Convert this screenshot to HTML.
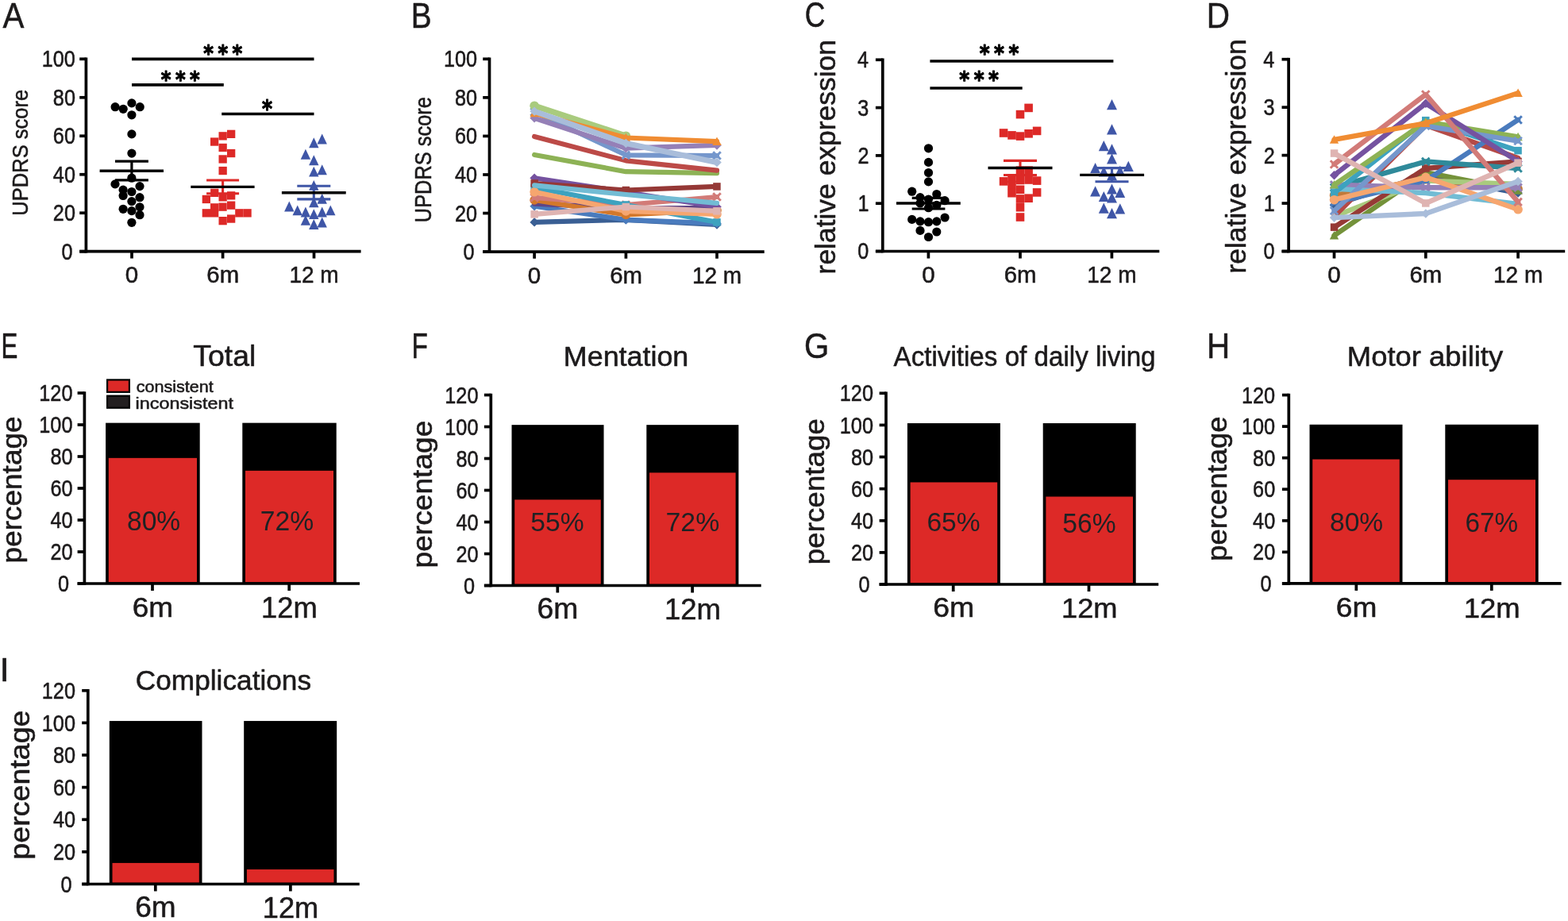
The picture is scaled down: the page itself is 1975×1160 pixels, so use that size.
<!DOCTYPE html>
<html><head><meta charset="utf-8"><title>Figure</title>
<style>
html,body{margin:0;padding:0;background:#fff;}
svg{display:block;}
text{font-family:"Liberation Sans",Arial,sans-serif;stroke-width:0.55px;stroke-linejoin:round;}
</style></head>
<body>
<svg width="1975" height="1160" viewBox="0 0 1975 1160">
<rect width="1975" height="1160" fill="#fff"/>
<text transform="translate(3.50 35.20) scale(0.8967 1)" font-size="44.95" fill="#1c1a1b" stroke="#1c1a1b">A</text>
<line x1="108.40" y1="72.45" x2="108.40" y2="318.55" stroke="#000" stroke-width="3.7" stroke-linecap="butt"/>
<line x1="100.20" y1="316.70" x2="108.40" y2="316.70" stroke="#000" stroke-width="3.7" stroke-linecap="butt"/>
<line x1="100.20" y1="268.22" x2="108.40" y2="268.22" stroke="#000" stroke-width="3.7" stroke-linecap="butt"/>
<line x1="100.20" y1="219.74" x2="108.40" y2="219.74" stroke="#000" stroke-width="3.7" stroke-linecap="butt"/>
<line x1="100.20" y1="171.26" x2="108.40" y2="171.26" stroke="#000" stroke-width="3.7" stroke-linecap="butt"/>
<line x1="100.20" y1="122.78" x2="108.40" y2="122.78" stroke="#000" stroke-width="3.7" stroke-linecap="butt"/>
<line x1="100.20" y1="74.30" x2="108.40" y2="74.30" stroke="#000" stroke-width="3.7" stroke-linecap="butt"/>
<line x1="100.20" y1="316.70" x2="454.60" y2="316.70" stroke="#000" stroke-width="3.7" stroke-linecap="butt"/>
<line x1="166.00" y1="316.70" x2="166.00" y2="325.50" stroke="#000" stroke-width="3.7" stroke-linecap="butt"/>
<line x1="280.60" y1="316.70" x2="280.60" y2="325.50" stroke="#000" stroke-width="3.7" stroke-linecap="butt"/>
<line x1="395.50" y1="316.70" x2="395.50" y2="325.50" stroke="#000" stroke-width="3.7" stroke-linecap="butt"/>
<text transform="translate(77.45 326.66) scale(0.8700 1)" font-size="28.98" fill="#1c1a1b" stroke="#1c1a1b">0</text>
<text transform="translate(66.86 278.18) scale(0.8700 1)" font-size="28.98" fill="#1c1a1b" stroke="#1c1a1b">20</text>
<text transform="translate(66.86 229.70) scale(0.8700 1)" font-size="28.98" fill="#1c1a1b" stroke="#1c1a1b">40</text>
<text transform="translate(66.86 181.22) scale(0.8700 1)" font-size="28.98" fill="#1c1a1b" stroke="#1c1a1b">60</text>
<text transform="translate(66.86 132.74) scale(0.8700 1)" font-size="28.98" fill="#1c1a1b" stroke="#1c1a1b">80</text>
<text transform="translate(52.81 84.26) scale(0.8700 1)" font-size="28.98" fill="#1c1a1b" stroke="#1c1a1b">100</text>
<text transform="translate(157.77 355.81) scale(1.0291 1)" font-size="28.69" fill="#1c1a1b" stroke="#1c1a1b">0</text>
<text transform="translate(260.33 355.81) scale(1.0243 1)" font-size="28.69" fill="#1c1a1b" stroke="#1c1a1b">6m</text>
<text transform="translate(364.40 356.10) scale(0.9619 1)" font-size="29.10" fill="#1c1a1b" stroke="#1c1a1b">12 m</text>
<text transform="translate(34.92 271.68) rotate(-90) scale(0.8986 1)" font-size="28.41" fill="#1c1a1b" stroke="#1c1a1b">UPDRS score</text>
<line x1="166.00" y1="74.30" x2="395.50" y2="74.30" stroke="#000" stroke-width="3.7" stroke-linecap="butt"/>
<text transform="translate(256.27 77.09) scale(0.8809 1)" font-size="27.53" fill="#000" stroke="#000" style="font-family:'DejaVu Sans',sans-serif;font-weight:bold;stroke-width:1.1px;stroke-linejoin:round;stroke-linecap:round">*</text>
<text transform="translate(274.57 77.09) scale(0.8809 1)" font-size="27.53" fill="#000" stroke="#000" style="font-family:'DejaVu Sans',sans-serif;font-weight:bold;stroke-width:1.1px;stroke-linejoin:round;stroke-linecap:round">*</text>
<text transform="translate(292.57 77.09) scale(0.8809 1)" font-size="27.53" fill="#000" stroke="#000" style="font-family:'DejaVu Sans',sans-serif;font-weight:bold;stroke-width:1.1px;stroke-linejoin:round;stroke-linecap:round">*</text>
<line x1="166.00" y1="106.80" x2="281.80" y2="106.80" stroke="#000" stroke-width="3.7" stroke-linecap="butt"/>
<text transform="translate(202.87 109.75) scale(0.8741 1)" font-size="27.74" fill="#000" stroke="#000" style="font-family:'DejaVu Sans',sans-serif;font-weight:bold;stroke-width:1.1px;stroke-linejoin:round;stroke-linecap:round">*</text>
<text transform="translate(221.07 109.75) scale(0.8741 1)" font-size="27.74" fill="#000" stroke="#000" style="font-family:'DejaVu Sans',sans-serif;font-weight:bold;stroke-width:1.1px;stroke-linejoin:round;stroke-linecap:round">*</text>
<text transform="translate(239.07 109.75) scale(0.8741 1)" font-size="27.74" fill="#000" stroke="#000" style="font-family:'DejaVu Sans',sans-serif;font-weight:bold;stroke-width:1.1px;stroke-linejoin:round;stroke-linecap:round">*</text>
<line x1="279.20" y1="143.50" x2="395.50" y2="143.50" stroke="#000" stroke-width="3.7" stroke-linecap="butt"/>
<text transform="translate(329.95 147.47) scale(0.8504 1)" font-size="29.25" fill="#000" stroke="#000" style="font-family:'DejaVu Sans',sans-serif;font-weight:bold;stroke-width:1.1px;stroke-linejoin:round;stroke-linecap:round">*</text>
<circle cx="145.1" cy="134.7" r="5.6" fill="#000"/>
<circle cx="155.2" cy="137.3" r="5.6" fill="#000"/>
<circle cx="165.9" cy="129.9" r="5.6" fill="#000"/>
<circle cx="176.2" cy="134.7" r="5.6" fill="#000"/>
<circle cx="165.9" cy="144.8" r="5.6" fill="#000"/>
<circle cx="165.9" cy="168.9" r="5.6" fill="#000"/>
<circle cx="165.9" cy="193.1" r="5.6" fill="#000"/>
<circle cx="165.9" cy="224.2" r="5.6" fill="#000"/>
<circle cx="145.0" cy="231.9" r="5.6" fill="#000"/>
<circle cx="176.0" cy="234.6" r="5.6" fill="#000"/>
<circle cx="155.1" cy="239.2" r="5.6" fill="#000"/>
<circle cx="165.9" cy="241.5" r="5.6" fill="#000"/>
<circle cx="155.1" cy="246.5" r="5.6" fill="#000"/>
<circle cx="176.0" cy="248.7" r="5.6" fill="#000"/>
<circle cx="165.9" cy="253.6" r="5.6" fill="#000"/>
<circle cx="176.0" cy="260.8" r="5.6" fill="#000"/>
<circle cx="155.1" cy="263.3" r="5.6" fill="#000"/>
<circle cx="165.9" cy="265.6" r="5.6" fill="#000"/>
<circle cx="176.0" cy="270.7" r="5.6" fill="#000"/>
<circle cx="165.9" cy="280.3" r="5.6" fill="#000"/>
<line x1="145.00" y1="203.20" x2="186.90" y2="203.20" stroke="#000" stroke-width="3.2" stroke-linecap="butt"/>
<line x1="145.00" y1="226.80" x2="186.90" y2="226.80" stroke="#000" stroke-width="3.2" stroke-linecap="butt"/>
<line x1="165.90" y1="203.20" x2="165.90" y2="226.80" stroke="#000" stroke-width="3.2" stroke-linecap="butt"/>
<line x1="125.60" y1="215.20" x2="206.00" y2="215.20" stroke="#000" stroke-width="3.4" stroke-linecap="butt"/>
<rect x="286.0" y="163.7" width="10.3" height="10.3" fill="#DD2927"/>
<rect x="275.5" y="166.2" width="10.3" height="10.3" fill="#DD2927"/>
<rect x="265.0" y="173.4" width="10.3" height="10.3" fill="#DD2927"/>
<rect x="275.5" y="180.8" width="10.3" height="10.3" fill="#DD2927"/>
<rect x="286.0" y="187.9" width="10.3" height="10.3" fill="#DD2927"/>
<rect x="275.5" y="195.3" width="10.3" height="10.3" fill="#DD2927"/>
<rect x="275.5" y="209.9" width="10.3" height="10.3" fill="#DD2927"/>
<rect x="265.1" y="237.7" width="10.3" height="10.3" fill="#DD2927"/>
<rect x="254.7" y="245.8" width="10.3" height="10.3" fill="#DD2927"/>
<rect x="275.5" y="243.2" width="10.3" height="10.3" fill="#DD2927"/>
<rect x="286.0" y="241.2" width="10.3" height="10.3" fill="#DD2927"/>
<rect x="265.0" y="256.2" width="10.3" height="10.3" fill="#DD2927"/>
<rect x="286.0" y="253.5" width="10.3" height="10.3" fill="#DD2927"/>
<rect x="254.7" y="263.2" width="10.3" height="10.3" fill="#DD2927"/>
<rect x="265.0" y="263.2" width="10.3" height="10.3" fill="#DD2927"/>
<rect x="296.2" y="263.2" width="10.3" height="10.3" fill="#DD2927"/>
<rect x="306.4" y="263.2" width="10.3" height="10.3" fill="#DD2927"/>
<rect x="286.0" y="270.4" width="10.3" height="10.3" fill="#DD2927"/>
<rect x="275.5" y="273.0" width="10.3" height="10.3" fill="#DD2927"/>
<rect x="275.4" y="255.5" width="10.3" height="10.3" fill="#DD2927"/>
<line x1="260.10" y1="227.00" x2="301.10" y2="227.00" stroke="#DD2927" stroke-width="3.1" stroke-linecap="butt"/>
<line x1="260.10" y1="243.80" x2="301.10" y2="243.80" stroke="#DD2927" stroke-width="3.1" stroke-linecap="butt"/>
<line x1="280.60" y1="227.00" x2="280.60" y2="243.80" stroke="#DD2927" stroke-width="3.1" stroke-linecap="butt"/>
<line x1="240.30" y1="235.40" x2="320.60" y2="235.40" stroke="#000" stroke-width="3.4" stroke-linecap="butt"/>
<path d="M405.7 168.5L411.9 181.4L399.5 181.4Z" fill="#3F56A7"/>
<path d="M395.3 173.3L401.5 186.2L389.1 186.2Z" fill="#3F56A7"/>
<path d="M384.9 187.8L391.1 200.7L378.7 200.7Z" fill="#3F56A7"/>
<path d="M395.3 195.3L401.5 208.2L389.1 208.2Z" fill="#3F56A7"/>
<path d="M395.3 209.7L401.5 222.6L389.1 222.6Z" fill="#3F56A7"/>
<path d="M405.7 207.3L411.9 220.2L399.5 220.2Z" fill="#3F56A7"/>
<path d="M395.3 226.9L401.5 239.8L389.1 239.8Z" fill="#3F56A7"/>
<path d="M405.7 243.8L411.9 256.7L399.5 256.7Z" fill="#3F56A7"/>
<path d="M395.3 248.3L401.5 261.2L389.1 261.2Z" fill="#3F56A7"/>
<path d="M364.3 253.5L370.5 266.4L358.1 266.4Z" fill="#3F56A7"/>
<path d="M374.7 258.4L380.9 271.3L368.5 271.3Z" fill="#3F56A7"/>
<path d="M384.9 260.6L391.1 273.5L378.7 273.5Z" fill="#3F56A7"/>
<path d="M395.3 263.2L401.5 276.1L389.1 276.1Z" fill="#3F56A7"/>
<path d="M405.7 260.6L411.9 273.5L399.5 273.5Z" fill="#3F56A7"/>
<path d="M416.3 258.4L422.5 271.3L410.1 271.3Z" fill="#3F56A7"/>
<path d="M384.9 270.9L391.1 283.8L378.7 283.8Z" fill="#3F56A7"/>
<path d="M395.3 276.1L401.5 289.0L389.1 289.0Z" fill="#3F56A7"/>
<path d="M405.7 273.5L411.9 286.4L399.5 286.4Z" fill="#3F56A7"/>
<line x1="374.30" y1="234.30" x2="416.30" y2="234.30" stroke="#3F56A7" stroke-width="3.1" stroke-linecap="butt"/>
<line x1="374.30" y1="250.90" x2="416.30" y2="250.90" stroke="#3F56A7" stroke-width="3.1" stroke-linecap="butt"/>
<line x1="395.30" y1="234.30" x2="395.30" y2="250.90" stroke="#3F56A7" stroke-width="3.1" stroke-linecap="butt"/>
<line x1="354.90" y1="242.70" x2="435.70" y2="242.70" stroke="#000" stroke-width="3.4" stroke-linecap="butt"/>
<text transform="translate(517.69 34.60) scale(0.8677 1)" font-size="44.80" fill="#1c1a1b" stroke="#1c1a1b">B</text>
<line x1="616.50" y1="72.45" x2="616.50" y2="318.95" stroke="#000" stroke-width="3.7" stroke-linecap="butt"/>
<line x1="608.20" y1="317.10" x2="616.50" y2="317.10" stroke="#000" stroke-width="3.7" stroke-linecap="butt"/>
<line x1="608.20" y1="268.54" x2="616.50" y2="268.54" stroke="#000" stroke-width="3.7" stroke-linecap="butt"/>
<line x1="608.20" y1="219.98" x2="616.50" y2="219.98" stroke="#000" stroke-width="3.7" stroke-linecap="butt"/>
<line x1="608.20" y1="171.42" x2="616.50" y2="171.42" stroke="#000" stroke-width="3.7" stroke-linecap="butt"/>
<line x1="608.20" y1="122.86" x2="616.50" y2="122.86" stroke="#000" stroke-width="3.7" stroke-linecap="butt"/>
<line x1="608.20" y1="74.30" x2="616.50" y2="74.30" stroke="#000" stroke-width="3.7" stroke-linecap="butt"/>
<line x1="608.20" y1="317.10" x2="962.70" y2="317.10" stroke="#000" stroke-width="3.7" stroke-linecap="butt"/>
<line x1="673.10" y1="317.10" x2="673.10" y2="325.70" stroke="#000" stroke-width="3.7" stroke-linecap="butt"/>
<line x1="788.40" y1="317.10" x2="788.40" y2="325.70" stroke="#000" stroke-width="3.7" stroke-linecap="butt"/>
<line x1="903.00" y1="317.10" x2="903.00" y2="325.70" stroke="#000" stroke-width="3.7" stroke-linecap="butt"/>
<text transform="translate(583.55 327.06) scale(0.8700 1)" font-size="28.98" fill="#1c1a1b" stroke="#1c1a1b">0</text>
<text transform="translate(572.96 278.50) scale(0.8700 1)" font-size="28.98" fill="#1c1a1b" stroke="#1c1a1b">20</text>
<text transform="translate(572.96 229.94) scale(0.8700 1)" font-size="28.98" fill="#1c1a1b" stroke="#1c1a1b">40</text>
<text transform="translate(572.96 181.38) scale(0.8700 1)" font-size="28.98" fill="#1c1a1b" stroke="#1c1a1b">60</text>
<text transform="translate(572.96 132.82) scale(0.8700 1)" font-size="28.98" fill="#1c1a1b" stroke="#1c1a1b">80</text>
<text transform="translate(558.91 84.26) scale(0.8700 1)" font-size="28.98" fill="#1c1a1b" stroke="#1c1a1b">100</text>
<text transform="translate(664.87 357.01) scale(1.0291 1)" font-size="28.69" fill="#1c1a1b" stroke="#1c1a1b">0</text>
<text transform="translate(768.13 357.01) scale(1.0243 1)" font-size="28.69" fill="#1c1a1b" stroke="#1c1a1b">6m</text>
<text transform="translate(871.90 357.30) scale(0.9619 1)" font-size="29.10" fill="#1c1a1b" stroke="#1c1a1b">12 m</text>
<text transform="translate(543.01 280.17) rotate(-90) scale(0.8723 1)" font-size="29.12" fill="#1c1a1b" stroke="#1c1a1b">UPDRS score</text>
<g>
<path d="M673.1 279.9L788.4 276.8L903.0 283.0" fill="none" stroke="#3A5F94" stroke-width="6.2" stroke-linejoin="round" stroke-linecap="round"/>
<path d="M673.1 274.1L678.9 279.9L673.1 285.6L667.4 279.9Z" fill="#3A5F94"/>
<path d="M788.4 271.1L794.1 276.8L788.4 282.6L782.6 276.8Z" fill="#3A5F94"/>
<path d="M903.0 277.2L908.8 283.0L903.0 288.8L897.2 283.0Z" fill="#3A5F94"/>
<path d="M673.1 259.7L788.4 276.8L903.0 281.4" fill="none" stroke="#4A7BBD" stroke-width="6.2" stroke-linejoin="round" stroke-linecap="round"/>
<path d="M673.1 253.9L678.9 259.7L673.1 265.4L667.4 259.7Z" fill="#4A7BBD"/>
<path d="M788.4 271.1L794.1 276.8L788.4 282.6L782.6 276.8Z" fill="#4A7BBD"/>
<path d="M903.0 275.6L908.8 281.4L903.0 287.1L897.2 281.4Z" fill="#4A7BBD"/>
<path d="M673.1 256.6L788.4 262.0L903.0 262.0" fill="none" stroke="#5F4586" stroke-width="6.2" stroke-linejoin="round" stroke-linecap="round"/>
<path d="M673.1 252.0L788.4 270.5L903.0 265.0" fill="none" stroke="#D3782B" stroke-width="6.2" stroke-linejoin="round" stroke-linecap="round"/>
<circle cx="673.1" cy="252.0" r="5.8" fill="#D3782B"/>
<circle cx="788.4" cy="270.5" r="5.8" fill="#D3782B"/>
<circle cx="903.0" cy="265.0" r="5.8" fill="#D3782B"/>
<path d="M673.1 248.8L788.4 258.0L903.0 248.0" fill="none" stroke="#D27B78" stroke-width="6.2" stroke-linejoin="round" stroke-linecap="round"/>
<path d="M668.4 244.1L677.9 253.6M677.9 244.1L668.4 253.6" stroke="#D27B78" stroke-width="3"/>
<path d="M783.6 253.2L793.1 262.8M793.1 253.2L783.6 262.8" stroke="#D27B78" stroke-width="3"/>
<path d="M898.2 243.2L907.8 252.8M907.8 243.2L898.2 252.8" stroke="#D27B78" stroke-width="3"/>
<path d="M673.1 236.4L788.4 258.0L903.0 279.9" fill="none" stroke="#3DA2BF" stroke-width="6.2" stroke-linejoin="round" stroke-linecap="round"/>
<rect x="668.4" y="231.7" width="9.5" height="9.5" fill="#3DA2BF"/>
<rect x="783.6" y="253.2" width="9.5" height="9.5" fill="#3DA2BF"/>
<rect x="898.2" y="275.1" width="9.5" height="9.5" fill="#3DA2BF"/>
<path d="M673.1 224.3L788.4 242.0L903.0 260.5" fill="none" stroke="#7552A0" stroke-width="6.2" stroke-linejoin="round" stroke-linecap="round"/>
<path d="M673.1 218.6L678.9 224.3L673.1 230.1L667.4 224.3Z" fill="#7552A0"/>
<path d="M788.4 236.2L794.1 242.0L788.4 247.8L782.6 242.0Z" fill="#7552A0"/>
<path d="M903.0 254.8L908.8 260.5L903.0 266.2L897.2 260.5Z" fill="#7552A0"/>
<path d="M673.1 231.0L788.4 239.5L903.0 234.9" fill="none" stroke="#953836" stroke-width="6.2" stroke-linejoin="round" stroke-linecap="round"/>
<rect x="668.4" y="226.2" width="9.5" height="9.5" fill="#953836"/>
<rect x="783.6" y="234.8" width="9.5" height="9.5" fill="#953836"/>
<rect x="898.2" y="230.2" width="9.5" height="9.5" fill="#953836"/>
<path d="M673.1 241.8L788.4 265.9L903.0 269.8" fill="none" stroke="#F6A66F" stroke-width="6.2" stroke-linejoin="round" stroke-linecap="round"/>
<circle cx="673.1" cy="241.8" r="5.8" fill="#F6A66F"/>
<circle cx="788.4" cy="265.9" r="5.8" fill="#F6A66F"/>
<circle cx="903.0" cy="269.8" r="5.8" fill="#F6A66F"/>
<path d="M673.1 233.3L788.4 245.0L903.0 255.8" fill="none" stroke="#72BCD4" stroke-width="6.2" stroke-linejoin="round" stroke-linecap="round"/>
<path d="M673.1 269.8L788.4 260.5L903.0 265.9" fill="none" stroke="#DFB4B2" stroke-width="6.2" stroke-linejoin="round" stroke-linecap="round"/>
<rect x="668.4" y="265.1" width="9.5" height="9.5" fill="#DFB4B2"/>
<rect x="783.6" y="255.8" width="9.5" height="9.5" fill="#DFB4B2"/>
<rect x="898.2" y="261.1" width="9.5" height="9.5" fill="#DFB4B2"/>
<path d="M673.1 195.0L788.4 216.2L903.0 218.1" fill="none" stroke="#8DB255" stroke-width="6.2" stroke-linejoin="round" stroke-linecap="round"/>
<path d="M673.1 172.0L788.4 202.3L903.0 214.7" fill="none" stroke="#BC4A47" stroke-width="6.2" stroke-linejoin="round" stroke-linecap="round"/>
<path d="M673.1 141.0L788.4 195.3L903.0 196.0" fill="none" stroke="#7597CC" stroke-width="6.2" stroke-linejoin="round" stroke-linecap="round"/>
<path d="M668.4 136.2L677.9 145.8M677.9 136.2L668.4 145.8" stroke="#7597CC" stroke-width="3"/>
<path d="M783.6 190.6L793.1 200.1M793.1 190.6L783.6 200.1" stroke="#7597CC" stroke-width="3"/>
<path d="M898.2 191.2L907.8 200.8M907.8 191.2L898.2 200.8" stroke="#7597CC" stroke-width="3"/>
<path d="M673.1 148.7L788.4 186.7L903.0 182.9" fill="none" stroke="#9580B7" stroke-width="6.2" stroke-linejoin="round" stroke-linecap="round"/>
<path d="M673.1 142.9L678.9 148.7L673.1 154.4L667.4 148.7Z" fill="#9580B7"/>
<path d="M788.4 180.9L794.1 186.7L788.4 192.4L782.6 186.7Z" fill="#9580B7"/>
<path d="M903.0 177.2L908.8 182.9L903.0 188.7L897.2 182.9Z" fill="#9580B7"/>
<path d="M673.1 133.2L788.4 171.2" fill="none" stroke="#A9CB7E" stroke-width="7.5" stroke-linejoin="round" stroke-linecap="round"/>
<circle cx="673.1" cy="133.2" r="5.8" fill="#A9CB7E"/>
<circle cx="788.4" cy="171.2" r="5.8" fill="#A9CB7E"/>
<path d="M673.1 142.5L788.4 173.5L903.0 178.2" fill="none" stroke="#F08C32" stroke-width="6.2" stroke-linejoin="round" stroke-linecap="round"/>
<path d="M673.1 136.8L678.9 147.2L667.4 147.2Z" fill="#F08C32"/>
<path d="M788.4 167.8L794.1 178.2L782.6 178.2Z" fill="#F08C32"/>
<path d="M903.0 172.4L908.8 182.9L897.2 182.9Z" fill="#F08C32"/>
<path d="M673.1 140.2L788.4 180.5L903.0 204.6" fill="none" stroke="#A9BDDA" stroke-width="7.0" stroke-linejoin="round" stroke-linecap="round"/>
<path d="M673.1 134.4L678.9 140.2L673.1 145.9L667.4 140.2Z" fill="#A9BDDA"/>
<path d="M788.4 174.8L794.1 180.5L788.4 186.2L782.6 180.5Z" fill="#A9BDDA"/>
<path d="M903.0 198.8L908.8 204.6L903.0 210.3L897.2 204.6Z" fill="#A9BDDA"/>
</g>
<text transform="translate(1013.82 34.46) scale(0.8019 1)" font-size="44.38" fill="#1c1a1b" stroke="#1c1a1b">C</text>
<line x1="1111.80" y1="73.45" x2="1111.80" y2="318.35" stroke="#000" stroke-width="3.7" stroke-linecap="butt"/>
<line x1="1102.90" y1="316.50" x2="1111.80" y2="316.50" stroke="#000" stroke-width="3.7" stroke-linecap="butt"/>
<line x1="1102.90" y1="256.20" x2="1111.80" y2="256.20" stroke="#000" stroke-width="3.7" stroke-linecap="butt"/>
<line x1="1102.90" y1="195.90" x2="1111.80" y2="195.90" stroke="#000" stroke-width="3.7" stroke-linecap="butt"/>
<line x1="1102.90" y1="135.60" x2="1111.80" y2="135.60" stroke="#000" stroke-width="3.7" stroke-linecap="butt"/>
<line x1="1102.90" y1="75.30" x2="1111.80" y2="75.30" stroke="#000" stroke-width="3.7" stroke-linecap="butt"/>
<line x1="1102.90" y1="316.50" x2="1460.30" y2="316.50" stroke="#000" stroke-width="3.7" stroke-linecap="butt"/>
<line x1="1169.40" y1="316.50" x2="1169.40" y2="325.50" stroke="#000" stroke-width="3.7" stroke-linecap="butt"/>
<line x1="1285.00" y1="316.50" x2="1285.00" y2="325.50" stroke="#000" stroke-width="3.7" stroke-linecap="butt"/>
<line x1="1400.40" y1="316.50" x2="1400.40" y2="325.50" stroke="#000" stroke-width="3.7" stroke-linecap="butt"/>
<text transform="translate(1080.15 326.46) scale(0.8700 1)" font-size="28.98" fill="#1c1a1b" stroke="#1c1a1b">0</text>
<text transform="translate(1080.41 266.16) scale(0.8700 1)" font-size="28.98" fill="#1c1a1b" stroke="#1c1a1b">1</text>
<text transform="translate(1080.47 205.86) scale(0.8700 1)" font-size="28.98" fill="#1c1a1b" stroke="#1c1a1b">2</text>
<text transform="translate(1080.28 145.56) scale(0.8700 1)" font-size="28.98" fill="#1c1a1b" stroke="#1c1a1b">3</text>
<text transform="translate(1079.90 85.26) scale(0.8700 1)" font-size="28.98" fill="#1c1a1b" stroke="#1c1a1b">4</text>
<text transform="translate(1161.17 355.81) scale(1.0291 1)" font-size="28.69" fill="#1c1a1b" stroke="#1c1a1b">0</text>
<text transform="translate(1264.73 355.81) scale(1.0243 1)" font-size="28.69" fill="#1c1a1b" stroke="#1c1a1b">6m</text>
<text transform="translate(1369.30 356.10) scale(0.9619 1)" font-size="29.10" fill="#1c1a1b" stroke="#1c1a1b">12 m</text>
<text transform="translate(1052.40 345.40) rotate(-90) scale(1.0077 1)" font-size="35.17" fill="#1c1a1b" stroke="#1c1a1b">relative expression</text>
<line x1="1171.40" y1="77.00" x2="1402.40" y2="77.00" stroke="#000" stroke-width="3.7" stroke-linecap="butt"/>
<text transform="translate(1233.66 77.15) scale(0.8559 1)" font-size="28.82" fill="#000" stroke="#000" style="font-family:'DejaVu Sans',sans-serif;font-weight:bold;stroke-width:1.1px;stroke-linejoin:round;stroke-linecap:round">*</text>
<text transform="translate(1252.06 77.15) scale(0.8559 1)" font-size="28.82" fill="#000" stroke="#000" style="font-family:'DejaVu Sans',sans-serif;font-weight:bold;stroke-width:1.1px;stroke-linejoin:round;stroke-linecap:round">*</text>
<text transform="translate(1270.46 77.15) scale(0.8559 1)" font-size="28.82" fill="#000" stroke="#000" style="font-family:'DejaVu Sans',sans-serif;font-weight:bold;stroke-width:1.1px;stroke-linejoin:round;stroke-linecap:round">*</text>
<line x1="1171.40" y1="111.00" x2="1287.70" y2="111.00" stroke="#000" stroke-width="3.7" stroke-linecap="butt"/>
<text transform="translate(1208.36 110.09) scale(0.8960 1)" font-size="27.53" fill="#000" stroke="#000" style="font-family:'DejaVu Sans',sans-serif;font-weight:bold;stroke-width:1.1px;stroke-linejoin:round;stroke-linecap:round">*</text>
<text transform="translate(1226.66 110.09) scale(0.8960 1)" font-size="27.53" fill="#000" stroke="#000" style="font-family:'DejaVu Sans',sans-serif;font-weight:bold;stroke-width:1.1px;stroke-linejoin:round;stroke-linecap:round">*</text>
<text transform="translate(1245.06 110.09) scale(0.8960 1)" font-size="27.53" fill="#000" stroke="#000" style="font-family:'DejaVu Sans',sans-serif;font-weight:bold;stroke-width:1.1px;stroke-linejoin:round;stroke-linecap:round">*</text>
<circle cx="1169.5" cy="186.8" r="5.6" fill="#000"/>
<circle cx="1169.5" cy="204.4" r="5.6" fill="#000"/>
<circle cx="1169.5" cy="217.5" r="5.6" fill="#000"/>
<circle cx="1169.5" cy="228.9" r="5.6" fill="#000"/>
<circle cx="1148.7" cy="241.2" r="5.6" fill="#000"/>
<circle cx="1179.8" cy="244.5" r="5.6" fill="#000"/>
<circle cx="1159.0" cy="248.6" r="5.6" fill="#000"/>
<circle cx="1169.5" cy="251.0" r="5.6" fill="#000"/>
<circle cx="1190.1" cy="252.7" r="5.6" fill="#000"/>
<circle cx="1159.0" cy="256.0" r="5.6" fill="#000"/>
<circle cx="1179.8" cy="258.4" r="5.6" fill="#000"/>
<circle cx="1169.5" cy="261.7" r="5.6" fill="#000"/>
<circle cx="1190.1" cy="274.0" r="5.6" fill="#000"/>
<circle cx="1148.7" cy="276.4" r="5.6" fill="#000"/>
<circle cx="1159.0" cy="278.9" r="5.6" fill="#000"/>
<circle cx="1169.5" cy="279.7" r="5.6" fill="#000"/>
<circle cx="1179.8" cy="278.9" r="5.6" fill="#000"/>
<circle cx="1159.0" cy="290.4" r="5.6" fill="#000"/>
<circle cx="1179.8" cy="292.0" r="5.6" fill="#000"/>
<circle cx="1169.5" cy="298.5" r="5.6" fill="#000"/>
<line x1="1148.70" y1="249.40" x2="1190.40" y2="249.40" stroke="#000" stroke-width="3.2" stroke-linecap="butt"/>
<line x1="1148.70" y1="263.00" x2="1190.40" y2="263.00" stroke="#000" stroke-width="3.2" stroke-linecap="butt"/>
<line x1="1169.50" y1="249.40" x2="1169.50" y2="263.00" stroke="#000" stroke-width="3.2" stroke-linecap="butt"/>
<line x1="1129.00" y1="256.00" x2="1209.80" y2="256.00" stroke="#000" stroke-width="3.4" stroke-linecap="butt"/>
<rect x="1290.3" y="130.6" width="10.6" height="10.6" fill="#DD2927"/>
<rect x="1279.7" y="138.8" width="10.6" height="10.6" fill="#DD2927"/>
<rect x="1258.8" y="162.2" width="10.6" height="10.6" fill="#DD2927"/>
<rect x="1269.2" y="165.1" width="10.6" height="10.6" fill="#DD2927"/>
<rect x="1279.7" y="166.3" width="10.6" height="10.6" fill="#DD2927"/>
<rect x="1290.3" y="163.0" width="10.6" height="10.6" fill="#DD2927"/>
<rect x="1300.8" y="159.6" width="10.6" height="10.6" fill="#DD2927"/>
<rect x="1279.7" y="209.4" width="10.6" height="10.6" fill="#DD2927"/>
<rect x="1290.3" y="209.4" width="10.6" height="10.6" fill="#DD2927"/>
<rect x="1258.8" y="223.1" width="10.6" height="10.6" fill="#DD2927"/>
<rect x="1269.2" y="219.5" width="10.6" height="10.6" fill="#DD2927"/>
<rect x="1290.3" y="221.2" width="10.6" height="10.6" fill="#DD2927"/>
<rect x="1300.8" y="222.3" width="10.6" height="10.6" fill="#DD2927"/>
<rect x="1279.7" y="221.7" width="10.6" height="10.6" fill="#DD2927"/>
<rect x="1269.2" y="227.7" width="10.6" height="10.6" fill="#DD2927"/>
<rect x="1279.7" y="233.5" width="10.6" height="10.6" fill="#DD2927"/>
<rect x="1300.8" y="237.1" width="10.6" height="10.6" fill="#DD2927"/>
<rect x="1269.2" y="237.9" width="10.6" height="10.6" fill="#DD2927"/>
<rect x="1290.3" y="244.4" width="10.6" height="10.6" fill="#DD2927"/>
<rect x="1279.7" y="245.2" width="10.6" height="10.6" fill="#DD2927"/>
<rect x="1279.7" y="255.9" width="10.6" height="10.6" fill="#DD2927"/>
<rect x="1279.7" y="268.2" width="10.6" height="10.6" fill="#DD2927"/>
<line x1="1264.00" y1="202.40" x2="1306.00" y2="202.40" stroke="#DD2927" stroke-width="3.1" stroke-linecap="butt"/>
<line x1="1264.00" y1="220.50" x2="1306.00" y2="220.50" stroke="#DD2927" stroke-width="3.1" stroke-linecap="butt"/>
<line x1="1285.00" y1="202.40" x2="1285.00" y2="220.50" stroke="#DD2927" stroke-width="3.1" stroke-linecap="butt"/>
<line x1="1244.50" y1="211.50" x2="1325.50" y2="211.50" stroke="#000" stroke-width="3.4" stroke-linecap="butt"/>
<path d="M1400.5 125.1L1407.0 138.3L1394.0 138.3Z" fill="#3F56A7"/>
<path d="M1400.5 156.3L1407.0 169.5L1394.0 169.5Z" fill="#3F56A7"/>
<path d="M1390.3 177.1L1396.8 190.3L1383.8 190.3Z" fill="#3F56A7"/>
<path d="M1400.5 181.2L1407.0 194.4L1394.0 194.4Z" fill="#3F56A7"/>
<path d="M1400.5 193.3L1407.0 206.5L1394.0 206.5Z" fill="#3F56A7"/>
<path d="M1379.6 205.0L1386.0 218.2L1373.1 218.2Z" fill="#3F56A7"/>
<path d="M1421.3 202.8L1427.8 216.0L1414.8 216.0Z" fill="#3F56A7"/>
<path d="M1390.3 209.4L1396.8 222.6L1383.8 222.6Z" fill="#3F56A7"/>
<path d="M1410.8 208.6L1417.2 221.8L1404.3 221.8Z" fill="#3F56A7"/>
<path d="M1400.5 214.0L1407.0 227.2L1394.0 227.2Z" fill="#3F56A7"/>
<path d="M1400.5 231.4L1407.0 244.6L1394.0 244.6Z" fill="#3F56A7"/>
<path d="M1379.6 234.3L1386.0 247.5L1373.1 247.5Z" fill="#3F56A7"/>
<path d="M1410.8 235.8L1417.2 249.0L1404.3 249.0Z" fill="#3F56A7"/>
<path d="M1390.3 240.9L1396.8 254.1L1383.8 254.1Z" fill="#3F56A7"/>
<path d="M1400.5 242.3L1407.0 255.5L1394.0 255.5Z" fill="#3F56A7"/>
<path d="M1390.3 255.5L1396.8 268.7L1383.8 268.7Z" fill="#3F56A7"/>
<path d="M1410.8 256.3L1417.2 269.5L1404.3 269.5Z" fill="#3F56A7"/>
<path d="M1400.5 262.1L1407.0 275.3L1394.0 275.3Z" fill="#3F56A7"/>
<line x1="1379.50" y1="211.60" x2="1421.50" y2="211.60" stroke="#3F56A7" stroke-width="3.1" stroke-linecap="butt"/>
<line x1="1379.50" y1="228.70" x2="1421.50" y2="228.70" stroke="#3F56A7" stroke-width="3.1" stroke-linecap="butt"/>
<line x1="1400.50" y1="211.60" x2="1400.50" y2="228.70" stroke="#3F56A7" stroke-width="3.1" stroke-linecap="butt"/>
<line x1="1360.20" y1="220.40" x2="1441.10" y2="220.40" stroke="#000" stroke-width="3.4" stroke-linecap="butt"/>
<text transform="translate(1519.66 34.70) scale(0.9131 1)" font-size="44.36" fill="#1c1a1b" stroke="#1c1a1b">D</text>
<line x1="1623.10" y1="72.85" x2="1623.10" y2="318.35" stroke="#000" stroke-width="3.7" stroke-linecap="butt"/>
<line x1="1614.50" y1="316.50" x2="1623.10" y2="316.50" stroke="#000" stroke-width="3.7" stroke-linecap="butt"/>
<line x1="1614.50" y1="256.05" x2="1623.10" y2="256.05" stroke="#000" stroke-width="3.7" stroke-linecap="butt"/>
<line x1="1614.50" y1="195.60" x2="1623.10" y2="195.60" stroke="#000" stroke-width="3.7" stroke-linecap="butt"/>
<line x1="1614.50" y1="135.15" x2="1623.10" y2="135.15" stroke="#000" stroke-width="3.7" stroke-linecap="butt"/>
<line x1="1614.50" y1="74.70" x2="1623.10" y2="74.70" stroke="#000" stroke-width="3.7" stroke-linecap="butt"/>
<line x1="1614.50" y1="316.50" x2="1971.20" y2="316.50" stroke="#000" stroke-width="3.7" stroke-linecap="butt"/>
<line x1="1680.50" y1="316.50" x2="1680.50" y2="325.50" stroke="#000" stroke-width="3.7" stroke-linecap="butt"/>
<line x1="1795.80" y1="316.50" x2="1795.80" y2="325.50" stroke="#000" stroke-width="3.7" stroke-linecap="butt"/>
<line x1="1912.10" y1="316.50" x2="1912.10" y2="325.50" stroke="#000" stroke-width="3.7" stroke-linecap="butt"/>
<text transform="translate(1591.45 326.46) scale(0.8700 1)" font-size="28.98" fill="#1c1a1b" stroke="#1c1a1b">0</text>
<text transform="translate(1591.71 266.01) scale(0.8700 1)" font-size="28.98" fill="#1c1a1b" stroke="#1c1a1b">1</text>
<text transform="translate(1591.77 205.56) scale(0.8700 1)" font-size="28.98" fill="#1c1a1b" stroke="#1c1a1b">2</text>
<text transform="translate(1591.58 145.11) scale(0.8700 1)" font-size="28.98" fill="#1c1a1b" stroke="#1c1a1b">3</text>
<text transform="translate(1591.20 84.66) scale(0.8700 1)" font-size="28.98" fill="#1c1a1b" stroke="#1c1a1b">4</text>
<text transform="translate(1672.27 355.81) scale(1.0291 1)" font-size="28.69" fill="#1c1a1b" stroke="#1c1a1b">0</text>
<text transform="translate(1775.53 355.81) scale(1.0243 1)" font-size="28.69" fill="#1c1a1b" stroke="#1c1a1b">6m</text>
<text transform="translate(1881.00 356.10) scale(0.9619 1)" font-size="29.10" fill="#1c1a1b" stroke="#1c1a1b">12 m</text>
<text transform="translate(1569.10 344.50) rotate(-90) scale(1.0073 1)" font-size="35.17" fill="#1c1a1b" stroke="#1c1a1b">relative expression</text>
<path d="M1680.5 258.0L1795.8 220.7L1912.1 243.1" fill="none" stroke="#3A5F94" stroke-width="6.4" stroke-linejoin="round" stroke-linecap="round"/>
<path d="M1680.5 252.2L1686.2 258.0L1680.5 263.8L1674.8 258.0Z" fill="#3A5F94"/>
<path d="M1795.8 214.9L1801.5 220.7L1795.8 226.4L1790.0 220.7Z" fill="#3A5F94"/>
<path d="M1912.1 237.3L1917.8 243.1L1912.1 248.8L1906.3 243.1Z" fill="#3A5F94"/>
<path d="M1680.5 246.0L1795.8 226.0L1912.1 237.9" fill="none" stroke="#C07A3A" stroke-width="6.4" stroke-linejoin="round" stroke-linecap="round"/>
<circle cx="1680.5" cy="246.0" r="5.8" fill="#C07A3A"/>
<circle cx="1795.8" cy="226.0" r="5.8" fill="#C07A3A"/>
<circle cx="1912.1" cy="237.9" r="5.8" fill="#C07A3A"/>
<path d="M1680.5 296.6L1795.8 217.2L1912.1 240.0" fill="none" stroke="#74923A" stroke-width="6.4" stroke-linejoin="round" stroke-linecap="round"/>
<path d="M1680.5 290.9L1686.2 301.4L1674.8 301.4Z" fill="#74923A"/>
<path d="M1795.8 211.4L1801.5 221.9L1790.0 221.9Z" fill="#74923A"/>
<path d="M1912.1 234.2L1917.8 244.8L1906.3 244.8Z" fill="#74923A"/>
<path d="M1680.5 272.4L1795.8 227.6L1912.1 232.0" fill="none" stroke="#A9CB7E" stroke-width="6.4" stroke-linejoin="round" stroke-linecap="round"/>
<path d="M1680.5 272.4L1795.8 157.8L1912.1 199.1" fill="none" stroke="#B54A47" stroke-width="6.4" stroke-linejoin="round" stroke-linecap="round"/>
<path d="M1680.5 286.2L1795.8 212.0L1912.1 203.4" fill="none" stroke="#963A36" stroke-width="6.4" stroke-linejoin="round" stroke-linecap="round"/>
<rect x="1675.8" y="281.4" width="9.5" height="9.5" fill="#963A36"/>
<rect x="1791.0" y="207.2" width="9.5" height="9.5" fill="#963A36"/>
<rect x="1907.3" y="198.7" width="9.5" height="9.5" fill="#963A36"/>
<path d="M1680.5 255.2L1795.8 227.6L1912.1 150.9" fill="none" stroke="#4A7BBD" stroke-width="6.4" stroke-linejoin="round" stroke-linecap="round"/>
<path d="M1675.8 250.4L1685.2 259.9M1685.2 250.4L1675.8 259.9" stroke="#4A7BBD" stroke-width="3"/>
<path d="M1791.0 222.8L1800.5 232.3M1800.5 222.8L1791.0 232.3" stroke="#4A7BBD" stroke-width="3"/>
<path d="M1907.3 146.2L1916.8 155.7M1916.8 146.2L1907.3 155.7" stroke="#4A7BBD" stroke-width="3"/>
<path d="M1680.5 236.2L1795.8 203.4L1912.1 212.0" fill="none" stroke="#2F8A9A" stroke-width="6.4" stroke-linejoin="round" stroke-linecap="round"/>
<path d="M1675.8 231.4L1685.2 240.9M1685.2 231.4L1675.8 240.9" stroke="#2F8A9A" stroke-width="3"/>
<path d="M1791.0 198.7L1800.5 208.2M1800.5 198.7L1791.0 208.2" stroke="#2F8A9A" stroke-width="3"/>
<path d="M1907.3 207.2L1916.8 216.8M1916.8 207.2L1907.3 216.8" stroke="#2F8A9A" stroke-width="3"/>
<path d="M1680.5 232.8L1795.8 236.2L1912.1 236.2" fill="none" stroke="#9580B7" stroke-width="6.4" stroke-linejoin="round" stroke-linecap="round"/>
<path d="M1675.8 228.1L1685.2 237.6M1685.2 228.1L1675.8 237.6" stroke="#9580B7" stroke-width="3"/>
<path d="M1791.0 231.4L1800.5 240.9M1800.5 231.4L1791.0 240.9" stroke="#9580B7" stroke-width="3"/>
<path d="M1907.3 231.4L1916.8 240.9M1916.8 231.4L1907.3 240.9" stroke="#9580B7" stroke-width="3"/>
<path d="M1680.5 237.9L1795.8 243.1L1912.1 256.9" fill="none" stroke="#72BCD4" stroke-width="6.4" stroke-linejoin="round" stroke-linecap="round"/>
<path d="M1680.5 243.1L1795.8 151.7L1912.1 189.7" fill="none" stroke="#3DA2BF" stroke-width="6.4" stroke-linejoin="round" stroke-linecap="round"/>
<rect x="1675.8" y="238.3" width="9.5" height="9.5" fill="#3DA2BF"/>
<rect x="1791.0" y="146.9" width="9.5" height="9.5" fill="#3DA2BF"/>
<rect x="1907.3" y="184.9" width="9.5" height="9.5" fill="#3DA2BF"/>
<path d="M1680.5 232.8L1795.8 153.4L1912.1 172.4" fill="none" stroke="#8DB255" stroke-width="6.4" stroke-linejoin="round" stroke-linecap="round"/>
<path d="M1680.5 227.1L1686.2 237.6L1674.8 237.6Z" fill="#8DB255"/>
<path d="M1795.8 147.7L1801.5 158.2L1790.0 158.2Z" fill="#8DB255"/>
<path d="M1912.1 166.7L1917.8 177.2L1906.3 177.2Z" fill="#8DB255"/>
<path d="M1680.5 265.5L1795.8 158.6L1912.1 177.6" fill="none" stroke="#7597CC" stroke-width="6.4" stroke-linejoin="round" stroke-linecap="round"/>
<path d="M1675.8 260.8L1685.2 270.2M1685.2 260.8L1675.8 270.2" stroke="#7597CC" stroke-width="3"/>
<path d="M1791.0 153.8L1800.5 163.3M1800.5 153.8L1791.0 163.3" stroke="#7597CC" stroke-width="3"/>
<path d="M1907.3 172.8L1916.8 182.3M1916.8 172.8L1907.3 182.3" stroke="#7597CC" stroke-width="3"/>
<path d="M1680.5 251.7L1795.8 223.3L1912.1 263.8" fill="none" stroke="#F6A66F" stroke-width="6.4" stroke-linejoin="round" stroke-linecap="round"/>
<circle cx="1680.5" cy="251.7" r="5.8" fill="#F6A66F"/>
<circle cx="1795.8" cy="223.3" r="5.8" fill="#F6A66F"/>
<circle cx="1912.1" cy="263.8" r="5.8" fill="#F6A66F"/>
<path d="M1680.5 220.7L1795.8 130.2L1912.1 203.4" fill="none" stroke="#7552A0" stroke-width="6.4" stroke-linejoin="round" stroke-linecap="round"/>
<path d="M1680.5 214.9L1686.2 220.7L1680.5 226.4L1674.8 220.7Z" fill="#7552A0"/>
<path d="M1795.8 124.4L1801.5 130.2L1795.8 135.9L1790.0 130.2Z" fill="#7552A0"/>
<path d="M1912.1 197.7L1917.8 203.4L1912.1 209.2L1906.3 203.4Z" fill="#7552A0"/>
<path d="M1680.5 206.9L1795.8 119.0L1912.1 254.3" fill="none" stroke="#D27B78" stroke-width="6.4" stroke-linejoin="round" stroke-linecap="round"/>
<path d="M1675.8 202.2L1685.2 211.7M1685.2 202.2L1675.8 211.7" stroke="#D27B78" stroke-width="3"/>
<path d="M1791.0 114.2L1800.5 123.8M1800.5 114.2L1791.0 123.8" stroke="#D27B78" stroke-width="3"/>
<path d="M1907.3 249.6L1916.8 259.1M1916.8 249.6L1907.3 259.1" stroke="#D27B78" stroke-width="3"/>
<path d="M1680.5 175.9L1795.8 155.2L1912.1 117.2" fill="none" stroke="#F08C32" stroke-width="6.4" stroke-linejoin="round" stroke-linecap="round"/>
<path d="M1680.5 170.2L1686.2 180.7L1674.8 180.7Z" fill="#F08C32"/>
<path d="M1795.8 149.4L1801.5 159.9L1790.0 159.9Z" fill="#F08C32"/>
<path d="M1912.1 111.5L1917.8 122.0L1906.3 122.0Z" fill="#F08C32"/>
<path d="M1680.5 193.1L1795.8 256.0L1912.1 205.2" fill="none" stroke="#DFB4B2" stroke-width="6.4" stroke-linejoin="round" stroke-linecap="round"/>
<rect x="1675.8" y="188.3" width="9.5" height="9.5" fill="#DFB4B2"/>
<rect x="1791.0" y="251.2" width="9.5" height="9.5" fill="#DFB4B2"/>
<rect x="1907.3" y="200.4" width="9.5" height="9.5" fill="#DFB4B2"/>
<path d="M1680.5 274.1L1795.8 269.0L1912.1 228.4" fill="none" stroke="#A9BDDA" stroke-width="6.4" stroke-linejoin="round" stroke-linecap="round"/>
<path d="M1680.5 268.4L1686.2 274.1L1680.5 279.9L1674.8 274.1Z" fill="#A9BDDA"/>
<path d="M1795.8 263.2L1801.5 269.0L1795.8 274.8L1790.0 269.0Z" fill="#A9BDDA"/>
<path d="M1912.1 222.7L1917.8 228.4L1912.1 234.2L1906.3 228.4Z" fill="#A9BDDA"/>
<text transform="translate(1.51 450.90) scale(0.7087 1)" font-size="44.22" fill="#1c1a1b" stroke="#1c1a1b">E</text>
<text transform="translate(243.36 461.44) scale(1.0251 1)" font-size="36.46" fill="#1c1a1b" stroke="#1c1a1b">Total</text>
<rect x="133.10" y="532.65" width="118.60" height="202.35" fill="#000"/>
<rect x="136.80" y="576.85" width="111.20" height="156.30" fill="#DD2927"/>
<rect x="305.30" y="532.65" width="118.40" height="202.35" fill="#000"/>
<rect x="309.00" y="592.85" width="111.00" height="140.30" fill="#DD2927"/>
<line x1="106.40" y1="493.15" x2="106.40" y2="736.85" stroke="#000" stroke-width="3.7" stroke-linecap="butt"/>
<line x1="97.60" y1="735.00" x2="106.40" y2="735.00" stroke="#000" stroke-width="3.7" stroke-linecap="butt"/>
<line x1="97.60" y1="695.00" x2="106.40" y2="695.00" stroke="#000" stroke-width="3.7" stroke-linecap="butt"/>
<line x1="97.60" y1="655.00" x2="106.40" y2="655.00" stroke="#000" stroke-width="3.7" stroke-linecap="butt"/>
<line x1="97.60" y1="615.00" x2="106.40" y2="615.00" stroke="#000" stroke-width="3.7" stroke-linecap="butt"/>
<line x1="97.60" y1="575.00" x2="106.40" y2="575.00" stroke="#000" stroke-width="3.7" stroke-linecap="butt"/>
<line x1="97.60" y1="535.00" x2="106.40" y2="535.00" stroke="#000" stroke-width="3.7" stroke-linecap="butt"/>
<line x1="97.60" y1="495.00" x2="106.40" y2="495.00" stroke="#000" stroke-width="3.7" stroke-linecap="butt"/>
<line x1="97.60" y1="735.00" x2="453.00" y2="735.00" stroke="#000" stroke-width="3.7" stroke-linecap="butt"/>
<line x1="192.00" y1="735.00" x2="192.00" y2="744.00" stroke="#000" stroke-width="3.7" stroke-linecap="butt"/>
<line x1="364.20" y1="735.00" x2="364.20" y2="744.00" stroke="#000" stroke-width="3.7" stroke-linecap="butt"/>
<text transform="translate(72.92 745.11) scale(0.8600 1)" font-size="29.40" fill="#1c1a1b" stroke="#1c1a1b">0</text>
<text transform="translate(63.38 705.11) scale(0.8600 1)" font-size="29.40" fill="#1c1a1b" stroke="#1c1a1b">20</text>
<text transform="translate(63.38 665.11) scale(0.8600 1)" font-size="29.40" fill="#1c1a1b" stroke="#1c1a1b">40</text>
<text transform="translate(63.38 625.11) scale(0.8600 1)" font-size="29.40" fill="#1c1a1b" stroke="#1c1a1b">60</text>
<text transform="translate(63.38 585.11) scale(0.8600 1)" font-size="29.40" fill="#1c1a1b" stroke="#1c1a1b">80</text>
<text transform="translate(49.29 545.11) scale(0.8600 1)" font-size="29.40" fill="#1c1a1b" stroke="#1c1a1b">100</text>
<text transform="translate(49.29 505.11) scale(0.8600 1)" font-size="29.40" fill="#1c1a1b" stroke="#1c1a1b">120</text>
<text transform="translate(166.65 777.24) scale(1.0351 1)" font-size="35.76" fill="#1c1a1b" stroke="#1c1a1b">6m</text>
<text transform="translate(329.07 778.20) scale(0.9980 1)" font-size="36.42" fill="#1c1a1b" stroke="#1c1a1b">12m</text>
<text transform="translate(26.85 709.40) rotate(-90) scale(1.0578 1)" font-size="34.96" fill="#1c1a1b" stroke="#1c1a1b">percentage</text>
<text transform="translate(159.97 667.65) scale(0.9666 1)" font-size="34.77" fill="#1E2224" stroke="none">80%</text>
<text transform="translate(327.82 668.03) scale(0.9660 1)" font-size="34.88" fill="#1E2224" stroke="none">72%</text>
<rect x="134.00" y="477.30" width="30.00" height="17.60" fill="#000"/>
<rect x="136.20" y="479.50" width="25.60" height="13.20" fill="#DD2927"/>
<rect x="134.00" y="497.50" width="30.00" height="17.30" fill="#000"/>
<rect x="136.20" y="499.70" width="25.60" height="12.90" fill="#231F20"/>
<text transform="translate(171.68 494.39) scale(1.0235 1)" font-size="21.09" fill="#1c1a1b" stroke="#1c1a1b">consistent</text>
<text transform="translate(170.62 515.09) scale(1.1223 1)" font-size="20.82" fill="#1c1a1b" stroke="#1c1a1b">inconsistent</text>
<text transform="translate(518.44 450.90) scale(0.7463 1)" font-size="44.80" fill="#1c1a1b" stroke="#1c1a1b">F</text>
<text transform="translate(709.84 460.66) scale(1.0457 1)" font-size="34.29" fill="#1c1a1b" stroke="#1c1a1b">Mentation</text>
<rect x="644.50" y="535.15" width="116.00" height="202.35" fill="#000"/>
<rect x="648.20" y="629.35" width="108.60" height="106.30" fill="#DD2927"/>
<rect x="814.30" y="535.15" width="116.00" height="202.35" fill="#000"/>
<rect x="818.00" y="595.35" width="108.60" height="140.30" fill="#DD2927"/>
<line x1="618.30" y1="495.65" x2="618.30" y2="739.35" stroke="#000" stroke-width="3.7" stroke-linecap="butt"/>
<line x1="609.90" y1="737.50" x2="618.30" y2="737.50" stroke="#000" stroke-width="3.7" stroke-linecap="butt"/>
<line x1="609.90" y1="697.50" x2="618.30" y2="697.50" stroke="#000" stroke-width="3.7" stroke-linecap="butt"/>
<line x1="609.90" y1="657.50" x2="618.30" y2="657.50" stroke="#000" stroke-width="3.7" stroke-linecap="butt"/>
<line x1="609.90" y1="617.50" x2="618.30" y2="617.50" stroke="#000" stroke-width="3.7" stroke-linecap="butt"/>
<line x1="609.90" y1="577.50" x2="618.30" y2="577.50" stroke="#000" stroke-width="3.7" stroke-linecap="butt"/>
<line x1="609.90" y1="537.50" x2="618.30" y2="537.50" stroke="#000" stroke-width="3.7" stroke-linecap="butt"/>
<line x1="609.90" y1="497.50" x2="618.30" y2="497.50" stroke="#000" stroke-width="3.7" stroke-linecap="butt"/>
<line x1="609.90" y1="737.50" x2="958.70" y2="737.50" stroke="#000" stroke-width="3.7" stroke-linecap="butt"/>
<line x1="702.30" y1="737.50" x2="702.30" y2="746.50" stroke="#000" stroke-width="3.7" stroke-linecap="butt"/>
<line x1="872.10" y1="737.50" x2="872.10" y2="746.50" stroke="#000" stroke-width="3.7" stroke-linecap="butt"/>
<text transform="translate(583.92 747.61) scale(0.8600 1)" font-size="29.40" fill="#1c1a1b" stroke="#1c1a1b">0</text>
<text transform="translate(574.38 707.61) scale(0.8600 1)" font-size="29.40" fill="#1c1a1b" stroke="#1c1a1b">20</text>
<text transform="translate(574.38 667.61) scale(0.8600 1)" font-size="29.40" fill="#1c1a1b" stroke="#1c1a1b">40</text>
<text transform="translate(574.38 627.61) scale(0.8600 1)" font-size="29.40" fill="#1c1a1b" stroke="#1c1a1b">60</text>
<text transform="translate(574.38 587.61) scale(0.8600 1)" font-size="29.40" fill="#1c1a1b" stroke="#1c1a1b">80</text>
<text transform="translate(560.29 547.61) scale(0.8600 1)" font-size="29.40" fill="#1c1a1b" stroke="#1c1a1b">100</text>
<text transform="translate(560.29 507.61) scale(0.8600 1)" font-size="29.40" fill="#1c1a1b" stroke="#1c1a1b">120</text>
<text transform="translate(676.54 779.24) scale(1.0295 1)" font-size="36.18" fill="#1c1a1b" stroke="#1c1a1b">6m</text>
<text transform="translate(836.97 780.10) scale(0.9971 1)" font-size="36.56" fill="#1c1a1b" stroke="#1c1a1b">12m</text>
<text transform="translate(543.75 715.52) rotate(-90) scale(1.0631 1)" font-size="34.96" fill="#1c1a1b" stroke="#1c1a1b">percentage</text>
<text transform="translate(668.35 668.57) scale(1.0101 1)" font-size="33.33" fill="#1E2224" stroke="none">55%</text>
<text transform="translate(838.51 668.73) scale(1.0118 1)" font-size="33.45" fill="#1E2224" stroke="none">72%</text>
<text transform="translate(1013.09 450.86) scale(0.9164 1)" font-size="43.82" fill="#1c1a1b" stroke="#1c1a1b">G</text>
<text transform="translate(1125.52 461.19) scale(0.9549 1)" font-size="34.75" fill="#1c1a1b" stroke="#1c1a1b">Activities of daily living</text>
<rect x="1142.90" y="533.05" width="117.00" height="202.95" fill="#000"/>
<rect x="1146.60" y="607.46" width="109.60" height="126.69" fill="#DD2927"/>
<rect x="1313.70" y="533.05" width="117.00" height="202.95" fill="#000"/>
<rect x="1317.40" y="625.51" width="109.60" height="108.64" fill="#DD2927"/>
<line x1="1116.00" y1="493.43" x2="1116.00" y2="737.85" stroke="#000" stroke-width="3.7" stroke-linecap="butt"/>
<line x1="1107.60" y1="736.00" x2="1116.00" y2="736.00" stroke="#000" stroke-width="3.7" stroke-linecap="butt"/>
<line x1="1107.60" y1="695.88" x2="1116.00" y2="695.88" stroke="#000" stroke-width="3.7" stroke-linecap="butt"/>
<line x1="1107.60" y1="655.76" x2="1116.00" y2="655.76" stroke="#000" stroke-width="3.7" stroke-linecap="butt"/>
<line x1="1107.60" y1="615.64" x2="1116.00" y2="615.64" stroke="#000" stroke-width="3.7" stroke-linecap="butt"/>
<line x1="1107.60" y1="575.52" x2="1116.00" y2="575.52" stroke="#000" stroke-width="3.7" stroke-linecap="butt"/>
<line x1="1107.60" y1="535.40" x2="1116.00" y2="535.40" stroke="#000" stroke-width="3.7" stroke-linecap="butt"/>
<line x1="1107.60" y1="495.28" x2="1116.00" y2="495.28" stroke="#000" stroke-width="3.7" stroke-linecap="butt"/>
<line x1="1107.60" y1="736.00" x2="1459.20" y2="736.00" stroke="#000" stroke-width="3.7" stroke-linecap="butt"/>
<line x1="1200.70" y1="736.00" x2="1200.70" y2="745.00" stroke="#000" stroke-width="3.7" stroke-linecap="butt"/>
<line x1="1371.50" y1="736.00" x2="1371.50" y2="745.00" stroke="#000" stroke-width="3.7" stroke-linecap="butt"/>
<text transform="translate(1081.42 746.11) scale(0.8600 1)" font-size="29.40" fill="#1c1a1b" stroke="#1c1a1b">0</text>
<text transform="translate(1071.88 705.99) scale(0.8600 1)" font-size="29.40" fill="#1c1a1b" stroke="#1c1a1b">20</text>
<text transform="translate(1071.88 665.87) scale(0.8600 1)" font-size="29.40" fill="#1c1a1b" stroke="#1c1a1b">40</text>
<text transform="translate(1071.88 625.75) scale(0.8600 1)" font-size="29.40" fill="#1c1a1b" stroke="#1c1a1b">60</text>
<text transform="translate(1071.88 585.63) scale(0.8600 1)" font-size="29.40" fill="#1c1a1b" stroke="#1c1a1b">80</text>
<text transform="translate(1057.79 545.51) scale(0.8600 1)" font-size="29.40" fill="#1c1a1b" stroke="#1c1a1b">100</text>
<text transform="translate(1057.79 505.39) scale(0.8600 1)" font-size="29.40" fill="#1c1a1b" stroke="#1c1a1b">120</text>
<text transform="translate(1175.23 776.95) scale(1.0566 1)" font-size="35.48" fill="#1c1a1b" stroke="#1c1a1b">6m</text>
<text transform="translate(1336.98 777.90) scale(1.0069 1)" font-size="35.99" fill="#1c1a1b" stroke="#1c1a1b">12m</text>
<text transform="translate(1038.15 711.19) rotate(-90) scale(1.0392 1)" font-size="35.43" fill="#1c1a1b" stroke="#1c1a1b">percentage</text>
<text transform="translate(1167.42 668.57) scale(1.0127 1)" font-size="33.22" fill="#1E2224" stroke="none">65%</text>
<text transform="translate(1338.25 671.25) scale(0.9684 1)" font-size="34.77" fill="#1E2224" stroke="none">56%</text>
<text transform="translate(1520.07 450.90) scale(0.9068 1)" font-size="44.51" fill="#1c1a1b" stroke="#1c1a1b">H</text>
<text transform="translate(1696.79 460.69) scale(1.0204 1)" font-size="35.71" fill="#1c1a1b" stroke="#1c1a1b">Motor ability</text>
<rect x="1649.50" y="534.75" width="117.00" height="200.15" fill="#000"/>
<rect x="1653.20" y="578.51" width="109.60" height="154.54" fill="#DD2927"/>
<rect x="1820.30" y="534.75" width="117.40" height="200.15" fill="#000"/>
<rect x="1824.00" y="604.22" width="110.00" height="128.83" fill="#DD2927"/>
<line x1="1623.30" y1="495.69" x2="1623.30" y2="736.75" stroke="#000" stroke-width="3.7" stroke-linecap="butt"/>
<line x1="1614.90" y1="734.90" x2="1623.30" y2="734.90" stroke="#000" stroke-width="3.7" stroke-linecap="butt"/>
<line x1="1614.90" y1="695.34" x2="1623.30" y2="695.34" stroke="#000" stroke-width="3.7" stroke-linecap="butt"/>
<line x1="1614.90" y1="655.78" x2="1623.30" y2="655.78" stroke="#000" stroke-width="3.7" stroke-linecap="butt"/>
<line x1="1614.90" y1="616.22" x2="1623.30" y2="616.22" stroke="#000" stroke-width="3.7" stroke-linecap="butt"/>
<line x1="1614.90" y1="576.66" x2="1623.30" y2="576.66" stroke="#000" stroke-width="3.7" stroke-linecap="butt"/>
<line x1="1614.90" y1="537.10" x2="1623.30" y2="537.10" stroke="#000" stroke-width="3.7" stroke-linecap="butt"/>
<line x1="1614.90" y1="497.54" x2="1623.30" y2="497.54" stroke="#000" stroke-width="3.7" stroke-linecap="butt"/>
<line x1="1614.90" y1="734.90" x2="1966.60" y2="734.90" stroke="#000" stroke-width="3.7" stroke-linecap="butt"/>
<line x1="1708.30" y1="734.90" x2="1708.30" y2="743.90" stroke="#000" stroke-width="3.7" stroke-linecap="butt"/>
<line x1="1878.80" y1="734.90" x2="1878.80" y2="743.90" stroke="#000" stroke-width="3.7" stroke-linecap="butt"/>
<text transform="translate(1587.62 745.01) scale(0.8600 1)" font-size="29.40" fill="#1c1a1b" stroke="#1c1a1b">0</text>
<text transform="translate(1578.08 705.45) scale(0.8600 1)" font-size="29.40" fill="#1c1a1b" stroke="#1c1a1b">20</text>
<text transform="translate(1578.08 665.89) scale(0.8600 1)" font-size="29.40" fill="#1c1a1b" stroke="#1c1a1b">40</text>
<text transform="translate(1578.08 626.33) scale(0.8600 1)" font-size="29.40" fill="#1c1a1b" stroke="#1c1a1b">60</text>
<text transform="translate(1578.08 586.77) scale(0.8600 1)" font-size="29.40" fill="#1c1a1b" stroke="#1c1a1b">80</text>
<text transform="translate(1563.99 547.21) scale(0.8600 1)" font-size="29.40" fill="#1c1a1b" stroke="#1c1a1b">100</text>
<text transform="translate(1563.99 507.65) scale(0.8600 1)" font-size="29.40" fill="#1c1a1b" stroke="#1c1a1b">120</text>
<text transform="translate(1682.85 776.95) scale(1.0455 1)" font-size="35.48" fill="#1c1a1b" stroke="#1c1a1b">6m</text>
<text transform="translate(1843.67 777.90) scale(1.0130 1)" font-size="35.99" fill="#1c1a1b" stroke="#1c1a1b">12m</text>
<text transform="translate(1544.75 706.87) rotate(-90) scale(1.0294 1)" font-size="35.43" fill="#1c1a1b" stroke="#1c1a1b">percentage</text>
<text transform="translate(1674.97 668.57) scale(1.0103 1)" font-size="33.22" fill="#1E2224" stroke="none">80%</text>
<text transform="translate(1845.53 670.24) scale(0.9356 1)" font-size="35.62" fill="#1E2224" stroke="none">67%</text>
<text transform="translate(-0.50 857.50) scale(1.0226 1)" font-size="43.35" fill="#1c1a1b" stroke="#1c1a1b">I</text>
<text transform="translate(170.84 869.40) scale(1.0018 1)" font-size="35.17" fill="#1c1a1b" stroke="#1c1a1b">Complications</text>
<rect x="137.80" y="908.05" width="116.70" height="205.45" fill="#000"/>
<rect x="141.50" y="1086.92" width="109.30" height="24.73" fill="#DD2927"/>
<rect x="307.20" y="908.05" width="117.00" height="205.45" fill="#000"/>
<rect x="310.90" y="1095.04" width="109.60" height="16.61" fill="#DD2927"/>
<line x1="110.80" y1="867.93" x2="110.80" y2="1115.35" stroke="#000" stroke-width="3.7" stroke-linecap="butt"/>
<line x1="103.20" y1="1113.50" x2="110.80" y2="1113.50" stroke="#000" stroke-width="3.7" stroke-linecap="butt"/>
<line x1="103.20" y1="1072.88" x2="110.80" y2="1072.88" stroke="#000" stroke-width="3.7" stroke-linecap="butt"/>
<line x1="103.20" y1="1032.26" x2="110.80" y2="1032.26" stroke="#000" stroke-width="3.7" stroke-linecap="butt"/>
<line x1="103.20" y1="991.64" x2="110.80" y2="991.64" stroke="#000" stroke-width="3.7" stroke-linecap="butt"/>
<line x1="103.20" y1="951.02" x2="110.80" y2="951.02" stroke="#000" stroke-width="3.7" stroke-linecap="butt"/>
<line x1="103.20" y1="910.40" x2="110.80" y2="910.40" stroke="#000" stroke-width="3.7" stroke-linecap="butt"/>
<line x1="103.20" y1="869.78" x2="110.80" y2="869.78" stroke="#000" stroke-width="3.7" stroke-linecap="butt"/>
<line x1="103.20" y1="1113.50" x2="452.80" y2="1113.50" stroke="#000" stroke-width="3.7" stroke-linecap="butt"/>
<line x1="195.80" y1="1113.50" x2="195.80" y2="1122.50" stroke="#000" stroke-width="3.7" stroke-linecap="butt"/>
<line x1="365.90" y1="1113.50" x2="365.90" y2="1122.50" stroke="#000" stroke-width="3.7" stroke-linecap="butt"/>
<text transform="translate(76.42 1123.61) scale(0.8600 1)" font-size="29.40" fill="#1c1a1b" stroke="#1c1a1b">0</text>
<text transform="translate(66.88 1082.99) scale(0.8600 1)" font-size="29.40" fill="#1c1a1b" stroke="#1c1a1b">20</text>
<text transform="translate(66.88 1042.37) scale(0.8600 1)" font-size="29.40" fill="#1c1a1b" stroke="#1c1a1b">40</text>
<text transform="translate(66.88 1001.75) scale(0.8600 1)" font-size="29.40" fill="#1c1a1b" stroke="#1c1a1b">60</text>
<text transform="translate(66.88 961.13) scale(0.8600 1)" font-size="29.40" fill="#1c1a1b" stroke="#1c1a1b">80</text>
<text transform="translate(52.79 920.51) scale(0.8600 1)" font-size="29.40" fill="#1c1a1b" stroke="#1c1a1b">100</text>
<text transform="translate(52.79 879.89) scale(0.8600 1)" font-size="29.40" fill="#1c1a1b" stroke="#1c1a1b">120</text>
<text transform="translate(170.25 1155.14) scale(1.0270 1)" font-size="36.04" fill="#1c1a1b" stroke="#1c1a1b">6m</text>
<text transform="translate(330.78 1156.10) scale(0.9911 1)" font-size="36.56" fill="#1c1a1b" stroke="#1c1a1b">12m</text>
<text transform="translate(37.35 1082.64) rotate(-90) scale(1.0759 1)" font-size="34.96" fill="#1c1a1b" stroke="#1c1a1b">percentage</text>
</svg>
</body></html>
